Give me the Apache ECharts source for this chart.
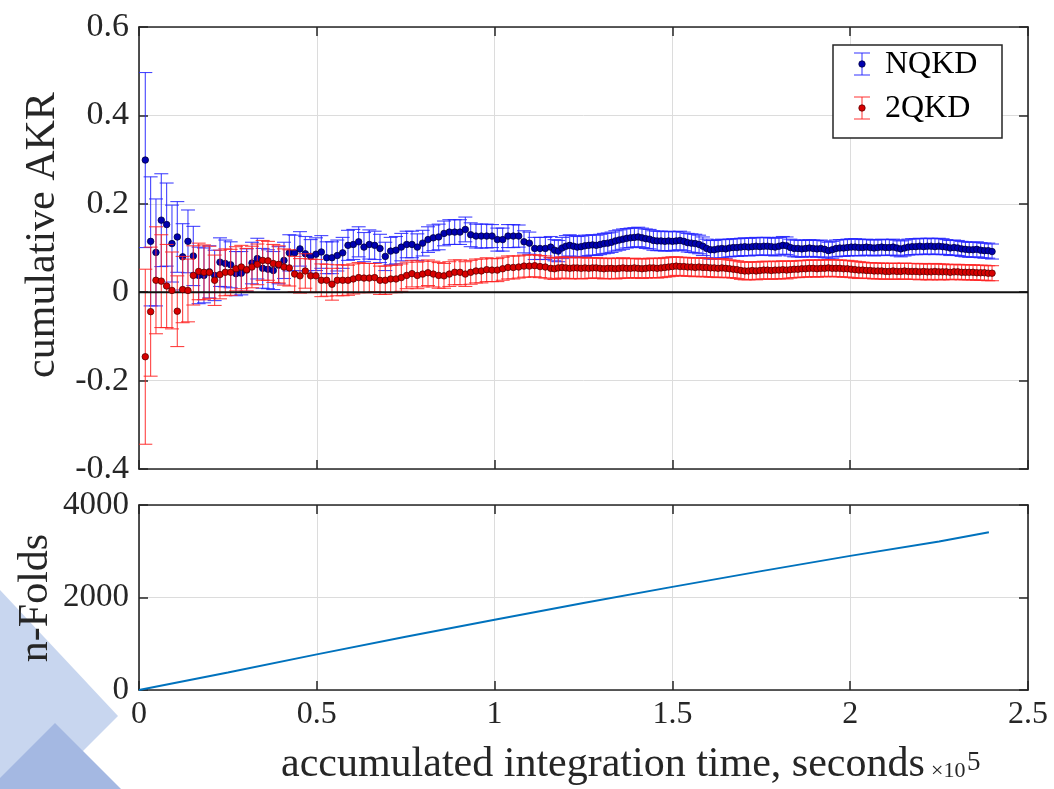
<!DOCTYPE html>
<html>
<head>
<meta charset="utf-8">
<script src="https://cdn.jsdelivr.net/npm/echarts@6/dist/echarts.min.js"></script>
<style>
html,body{margin:0;padding:0;background:#ffffff;}
#chart{width:1054px;height:789px;}
</style>
</head>
<body>
<div id="chart"></div>
<script>
// accumulated integration time of each cumulative point (seconds)
const timeSec = [
  1770, 3270, 4770, 6270, 7770, 9270, 10770, 12270, 13770, 15270,
  16770, 18270, 19770, 21270, 22770, 24270, 25770, 27270, 28770, 30270,
  31770, 33270, 34770, 36270, 37770, 39270, 40770, 42270, 43770, 45270,
  46770, 48270, 49770, 51270, 52770, 54270, 55770, 57270, 58770, 60270,
  61770, 63270, 64770, 66270, 67770, 69270, 70770, 72270, 73770, 75270,
  76770, 78270, 79770, 81270, 82770, 84270, 85770, 87270, 88770, 90270,
  91770, 93270, 94770, 96270, 97770, 99270, 100770, 102270, 103770, 105270,
  106770, 108270, 109770, 111270, 112770, 114270, 115770,
  116840, 117910, 118980, 120050, 121120, 122190, 123260, 124330, 125400, 126470,
  127540, 128610, 129680, 130750, 131820, 132890, 133960, 135030, 136100, 137170,
  138240, 139310, 140380, 141450, 142520, 143590, 144660, 145730, 146800, 147870,
  148940, 150010, 151080, 152150, 153220, 154290, 155360, 156430, 157500, 158570,
  159640, 160710, 161780, 162850, 163920, 164990, 166060, 167130, 168200, 169270,
  170340, 171410, 172480, 173550, 174620, 175690, 176760, 177830, 178900, 179970,
  181040, 182110, 183180, 184250, 185320, 186390, 187460, 188530, 189600, 190670,
  191740, 192810, 193880, 194950, 196020, 197090, 198160, 199230, 200300, 201370,
  202440, 203510, 204580, 205650, 206720, 207790, 208860, 209930, 211000, 212070,
  213140, 214210, 215280, 216350, 217420, 218490, 219560, 220630, 221700, 222770,
  223840, 224910, 225980, 227050, 228120, 229190, 230260, 231330, 232400, 233470,
  234540, 235610, 236680, 237750, 238820, 239890
];

// cumulative AKR, NQKD
const akrNQKD = [
  0.299, 0.115, 0.090, 0.163, 0.153, 0.110, 0.125, 0.080, 0.115, 0.082,
  0.038, 0.038, 0.046, 0.038, 0.068, 0.065, 0.062, 0.042, 0.043, 0.050,
  0.066, 0.076, 0.054, 0.052, 0.049, 0.061, 0.072, 0.089, 0.089, 0.098,
  0.087, 0.081, 0.086, 0.091, 0.078, 0.078, 0.083, 0.089, 0.106, 0.108,
  0.114, 0.102, 0.108, 0.106, 0.099, 0.081, 0.093, 0.095, 0.102, 0.108,
  0.108, 0.102, 0.111, 0.119, 0.123, 0.125, 0.133, 0.136, 0.136, 0.136,
  0.142, 0.130, 0.127, 0.127, 0.127, 0.127, 0.119, 0.119, 0.127, 0.127,
  0.127, 0.114, 0.111, 0.099, 0.099, 0.099, 0.102,
  0.095, 0.093, 0.100, 0.104, 0.106, 0.104, 0.102, 0.103, 0.105, 0.106,
  0.107, 0.106, 0.108, 0.110, 0.111, 0.113, 0.116, 0.118, 0.120, 0.122,
  0.123, 0.124, 0.125, 0.123, 0.121, 0.120, 0.117, 0.116, 0.116, 0.115,
  0.116, 0.115, 0.116, 0.117, 0.115, 0.112, 0.111, 0.110, 0.108, 0.104,
  0.099, 0.096, 0.096, 0.098, 0.099, 0.098, 0.100, 0.101, 0.101, 0.102,
  0.103, 0.102, 0.103, 0.104, 0.103, 0.104, 0.104, 0.103, 0.102, 0.104,
  0.106, 0.105, 0.101, 0.099, 0.099, 0.098, 0.099, 0.100, 0.099, 0.098,
  0.099, 0.097, 0.094, 0.096, 0.099, 0.100, 0.100, 0.101, 0.102, 0.102,
  0.101, 0.101, 0.102, 0.101, 0.100, 0.101, 0.102, 0.101, 0.101, 0.102,
  0.100, 0.098, 0.100, 0.102, 0.103, 0.103, 0.104, 0.103, 0.104, 0.104,
  0.103, 0.104, 0.103, 0.102, 0.100, 0.101, 0.100, 0.098, 0.097, 0.096,
  0.096, 0.097, 0.095, 0.094, 0.094, 0.092
];

// cumulative AKR, 2QKD
const akr2QKD = [
  -0.146, -0.044, 0.027, 0.025, 0.014, 0.004, -0.043, 0.006, 0.004, 0.038,
  0.047, 0.045, 0.045, 0.027, 0.040, 0.045, 0.045, 0.053, 0.057, 0.051,
  0.057, 0.063, 0.072, 0.071, 0.065, 0.063, 0.057, 0.055, 0.041, 0.037,
  0.048, 0.037, 0.037, 0.027, 0.027, 0.018, 0.027, 0.027, 0.027, 0.030,
  0.033, 0.032, 0.032, 0.033, 0.027, 0.027, 0.030, 0.030, 0.033, 0.038,
  0.042, 0.038, 0.041, 0.044, 0.041, 0.038, 0.037, 0.041, 0.045, 0.045,
  0.041, 0.045, 0.048, 0.048, 0.051, 0.050, 0.050, 0.053, 0.056, 0.056,
  0.057, 0.059, 0.059, 0.060, 0.058, 0.057, 0.054,
  0.053, 0.055, 0.056, 0.055, 0.054, 0.055, 0.055, 0.054, 0.055, 0.054,
  0.055, 0.055, 0.054, 0.053, 0.054, 0.054, 0.053, 0.054, 0.055, 0.054,
  0.054, 0.055, 0.054, 0.053, 0.054, 0.055, 0.055, 0.054, 0.055, 0.056,
  0.057, 0.058, 0.059, 0.058, 0.058, 0.057, 0.057, 0.056, 0.057, 0.056,
  0.056, 0.055, 0.055, 0.054, 0.055, 0.054, 0.053, 0.052, 0.051, 0.049,
  0.048, 0.048, 0.049, 0.048, 0.049, 0.050, 0.050, 0.049, 0.050, 0.050,
  0.051, 0.050, 0.051, 0.052, 0.052, 0.053, 0.053, 0.054, 0.054, 0.053,
  0.054, 0.054, 0.055, 0.054, 0.054, 0.054, 0.053, 0.053, 0.052, 0.051,
  0.050, 0.050, 0.049, 0.049, 0.048, 0.048, 0.048, 0.047, 0.047, 0.048,
  0.047, 0.047, 0.048, 0.047, 0.047, 0.047, 0.046, 0.047, 0.046, 0.046,
  0.047, 0.046, 0.046, 0.046, 0.045, 0.046, 0.046, 0.045, 0.045, 0.045,
  0.045, 0.044, 0.044, 0.044, 0.043, 0.043
];

// half length of the error bars (both series)
const akrErr = [
  0.198, 0.146, 0.121, 0.105, 0.094, 0.087, 0.080, 0.075, 0.071, 0.067,
  0.064, 0.062, 0.059, 0.057, 0.055, 0.053, 0.052, 0.050, 0.049, 0.048,
  0.047, 0.046, 0.045, 0.044, 0.043, 0.042, 0.041, 0.041, 0.040, 0.039,
  0.039, 0.038, 0.037, 0.037, 0.036, 0.036, 0.035, 0.035, 0.034, 0.034,
  0.034, 0.033, 0.033, 0.032, 0.032, 0.032, 0.031, 0.031, 0.031, 0.030,
  0.030, 0.030, 0.029, 0.029, 0.029, 0.029, 0.028, 0.028, 0.028, 0.028,
  0.028, 0.027, 0.027, 0.027, 0.027, 0.026, 0.026, 0.026, 0.026, 0.026,
  0.025, 0.025, 0.025, 0.025, 0.025, 0.025, 0.024,
  0.024, 0.024, 0.024, 0.024, 0.024, 0.024, 0.024, 0.024, 0.024, 0.023,
  0.023, 0.023, 0.023, 0.023, 0.023, 0.023, 0.023, 0.023, 0.023, 0.022,
  0.022, 0.022, 0.022, 0.022, 0.022, 0.022, 0.022, 0.022, 0.022, 0.022,
  0.022, 0.022, 0.021, 0.021, 0.021, 0.021, 0.021, 0.021, 0.021, 0.021,
  0.021, 0.021, 0.021, 0.021, 0.021, 0.021, 0.020, 0.020, 0.020, 0.020,
  0.020, 0.020, 0.020, 0.020, 0.020, 0.020, 0.020, 0.020, 0.020, 0.020,
  0.020, 0.020, 0.019, 0.019, 0.019, 0.019, 0.019, 0.019, 0.019, 0.019,
  0.019, 0.019, 0.019, 0.019, 0.019, 0.019, 0.019, 0.019, 0.019, 0.019,
  0.019, 0.018, 0.018, 0.018, 0.018, 0.018, 0.018, 0.018, 0.018, 0.018,
  0.018, 0.018, 0.018, 0.018, 0.018, 0.018, 0.018, 0.018, 0.018, 0.018,
  0.018, 0.018, 0.018, 0.017, 0.017, 0.017, 0.017, 0.017, 0.017, 0.017,
  0.017, 0.017, 0.017, 0.017, 0.017, 0.017
];

// n-Folds versus accumulated time
const foldTimeSec = [0, 25000, 50000, 75000, 100000, 125000, 150000, 175000, 200000, 225000, 239000];
const nFolds      = [0, 380, 770, 1150, 1520, 1880, 2230, 2570, 2900, 3210, 3410];

// tick labels
const xTickLabels    = ['0', '0.5', '1', '1.5', '2', '2.5'];
const akrTickLabels  = ['-0.4', '-0.2', '0', '0.2', '0.4', '0.6'];
const foldTickLabels = ['0', '2000', '4000'];
const seriesNames = ['NQKD', '2QKD'];

if (akrNQKD.length !== timeSec.length || akr2QKD.length !== timeSec.length || akrErr.length !== timeSec.length) {
  throw new Error('length mismatch ' + timeSec.length + ' ' + akrNQKD.length + ' ' + akr2QKD.length + ' ' + akrErr.length);
}

const X_UNIT = 1e5;
const FONT = '"Liberation Serif", "Times New Roman", serif';
const INK = '#262626';
const BLUE_BAR = 'rgba(35,35,255,0.85)';
const RED_BAR = 'rgba(255,35,35,0.85)';
const BLUE_DOT = '#0000b0';
const RED_DOT = '#d80000';

const blueData = timeSec.map((t, i) => [t / X_UNIT, akrNQKD[i], akrErr[i]]);
const redData  = timeSec.map((t, i) => [t / X_UNIT, akr2QKD[i], akrErr[i]]);
const foldData = foldTimeSec.map((t, i) => [t / X_UNIT, nFolds[i]]);

function errRender(color) {
  return function (params, api) {
    const x = api.value(0), y = api.value(1), e = api.value(2);
    const top = api.coord([x, y + e]);
    const bot = api.coord([x, y - e]);
    const h = 7;
    const style = { stroke: color, lineWidth: 1.1, fill: null };
    return {
      type: 'group',
      children: [
        { type: 'line', shape: { x1: top[0], y1: top[1], x2: bot[0], y2: bot[1] }, style: style },
        { type: 'line', shape: { x1: top[0] - h, y1: top[1], x2: top[0] + h, y2: top[1] }, style: style },
        { type: 'line', shape: { x1: bot[0] - h, y1: bot[1], x2: bot[0] + h, y2: bot[1] }, style: style }
      ]
    };
  };
}

const axisLine = { show: true, onZero: false, lineStyle: { color: INK, width: 1.6 } };
const axisTick = { show: true, inside: true, length: 9, lineStyle: { color: INK, width: 1.5 } };
const gridLine = { show: true, lineStyle: { color: '#dcdcdc', width: 1 } };
const noLabel = { show: false };

function xAx(grid, pos, labels) {
  return {
    gridIndex: grid, type: 'value', min: 0, max: 2.5, interval: 0.5, position: pos,
    axisLine: axisLine, axisTick: axisTick,
    axisLabel: labels ? { show: true, formatter: (v, i) => xTickLabels[i], fontFamily: FONT, fontSize: 32, color: INK, margin: 9 } : noLabel,
    splitLine: pos === 'bottom' ? gridLine : { show: false },
    axisPointer: { show: false }
  };
}

function legendItem(cy, name, bar, dot, dotEdge) {
  return [
    { type: 'line', z: 61, silent: true, shape: { x1: 862, y1: cy - 11, x2: 862, y2: cy + 11 }, style: { stroke: bar, lineWidth: 1.1 } },
    { type: 'line', z: 61, silent: true, shape: { x1: 854, y1: cy - 11, x2: 870, y2: cy - 11 }, style: { stroke: bar, lineWidth: 1.1 } },
    { type: 'line', z: 61, silent: true, shape: { x1: 854, y1: cy + 11, x2: 870, y2: cy + 11 }, style: { stroke: bar, lineWidth: 1.1 } },
    { type: 'circle', z: 62, silent: true, shape: { cx: 862, cy: cy, r: 3.2 }, style: { fill: dot, stroke: dotEdge, lineWidth: 0.8 } },
    { type: 'text', z: 62, silent: true, x: 885, y: cy + 1,
      style: { text: name, font: '32px ' + FONT, fill: '#000000', textAlign: 'left', textVerticalAlign: 'middle' } }
  ];
}

const chart = echarts.init(document.getElementById('chart'), null, { renderer: 'canvas' });

const option = {
  backgroundColor: '#ffffff',
  animation: false,
  grid: [
    { left: 139, top: 27, width: 889, height: 442, containLabel: false },
    { left: 139, top: 505, width: 889, height: 185, containLabel: false }
  ],
  xAxis: [xAx(0, 'bottom', false), xAx(0, 'top', false), xAx(1, 'bottom', true), xAx(1, 'top', false)],
  yAxis: [
    { gridIndex: 0, type: 'value', min: -0.4, max: 0.6, interval: 0.2, position: 'left',
      axisLine: axisLine, axisTick: axisTick, splitLine: gridLine,
      axisLabel: { show: true, formatter: (v, i) => akrTickLabels[i], fontFamily: FONT, fontSize: 34, color: INK, margin: 10 } },
    { gridIndex: 0, type: 'value', min: -0.4, max: 0.6, interval: 0.2, position: 'right',
      axisLine: axisLine, axisTick: axisTick, splitLine: { show: false }, axisLabel: noLabel },
    { gridIndex: 1, type: 'value', min: 0, max: 4000, interval: 2000, position: 'left',
      axisLine: axisLine, axisTick: axisTick, splitLine: gridLine,
      axisLabel: { show: true, formatter: (v, i) => foldTickLabels[i], fontFamily: FONT, fontSize: 33, color: INK, margin: 10 } },
    { gridIndex: 1, type: 'value', min: 0, max: 4000, interval: 2000, position: 'right',
      axisLine: axisLine, axisTick: axisTick, splitLine: { show: false }, axisLabel: noLabel }
  ],
  series: [
    { name: seriesNames[0] + ' err', type: 'custom', xAxisIndex: 0, yAxisIndex: 0, z: 2,
      renderItem: errRender(BLUE_BAR), data: blueData, encode: { x: 0, y: 1 }, clip: true, silent: true },
    { name: seriesNames[0], type: 'scatter', xAxisIndex: 0, yAxisIndex: 0, z: 3,
      symbol: 'circle', symbolSize: 6.5, data: blueData.map(d => [d[0], d[1]]),
      itemStyle: { color: BLUE_DOT, borderColor: '#000040', borderWidth: 0.8, opacity: 1 }, silent: true },
    { name: seriesNames[1] + ' err', type: 'custom', xAxisIndex: 0, yAxisIndex: 0, z: 4,
      renderItem: errRender(RED_BAR), data: redData, encode: { x: 0, y: 1 }, clip: true, silent: true },
    { name: 'zero', type: 'line', xAxisIndex: 0, yAxisIndex: 0, z: 5, data: [[0, 0], [2.5, 0]],
      symbol: 'none', lineStyle: { color: '#111111', width: 2 }, silent: true },
    { name: seriesNames[1], type: 'scatter', xAxisIndex: 0, yAxisIndex: 0, z: 6,
      symbol: 'circle', symbolSize: 6.5, data: redData.map(d => [d[0], d[1]]),
      itemStyle: { color: RED_DOT, borderColor: '#5a0000', borderWidth: 0.8, opacity: 1 }, silent: true },
    { name: 'n-Folds', type: 'line', xAxisIndex: 2, yAxisIndex: 2, z: 3, data: foldData,
      symbol: 'none', lineStyle: { color: '#0072BD', width: 2 }, silent: true }
  ],
  graphic: [
    // decorative background shapes (bottom-left)
    { type: 'polygon', z: -10, silent: true, shape: { points: [[0, 590], [118, 716], [45, 789], [0, 789]] }, style: { fill: '#c8d6ef' } },
    { type: 'polygon', z: -9, silent: true, shape: { points: [[55, 723], [121, 789], [0, 789], [0, 778]] }, style: { fill: '#a4b8e2' } },
    // axis titles
    { type: 'text', z: 50, x: 43, y: 235, rotation: Math.PI / 2, silent: true,
      style: { text: 'cumulative AKR', font: '42px ' + FONT, fill: INK, textAlign: 'center', textVerticalAlign: 'middle' } },
    { type: 'text', z: 50, x: 36, y: 598, rotation: Math.PI / 2, silent: true,
      style: { text: 'n-Folds', font: '42px ' + FONT, fill: INK, textAlign: 'center', textVerticalAlign: 'middle' } },
    { type: 'text', z: 50, x: 281, y: 765, silent: true,
      style: { text: 'accumulated integration time, seconds', font: '42px ' + FONT, fill: INK, textAlign: 'left', textVerticalAlign: 'middle' } },
    { type: 'text', z: 50, x: 931, y: 771, silent: true,
      style: { text: '\u00d710', font: '22px ' + FONT, fill: INK, textAlign: 'left', textVerticalAlign: 'middle' } },
    { type: 'text', z: 50, x: 967, y: 763, silent: true,
      style: { text: '5', font: '27px ' + FONT, fill: INK, textAlign: 'left', textVerticalAlign: 'middle' } },
    // legend box
    { type: 'rect', z: 60, silent: true, shape: { x: 833, y: 45, width: 169, height: 93 },
      style: { fill: '#ffffff', stroke: INK, lineWidth: 1.5 } }
  ]
    .concat(legendItem(64, seriesNames[0], BLUE_BAR, BLUE_DOT, '#000040'))
    .concat(legendItem(108, seriesNames[1], RED_BAR, RED_DOT, '#5a0000'))
};

chart.setOption(option);
</script>
</body>
</html>
